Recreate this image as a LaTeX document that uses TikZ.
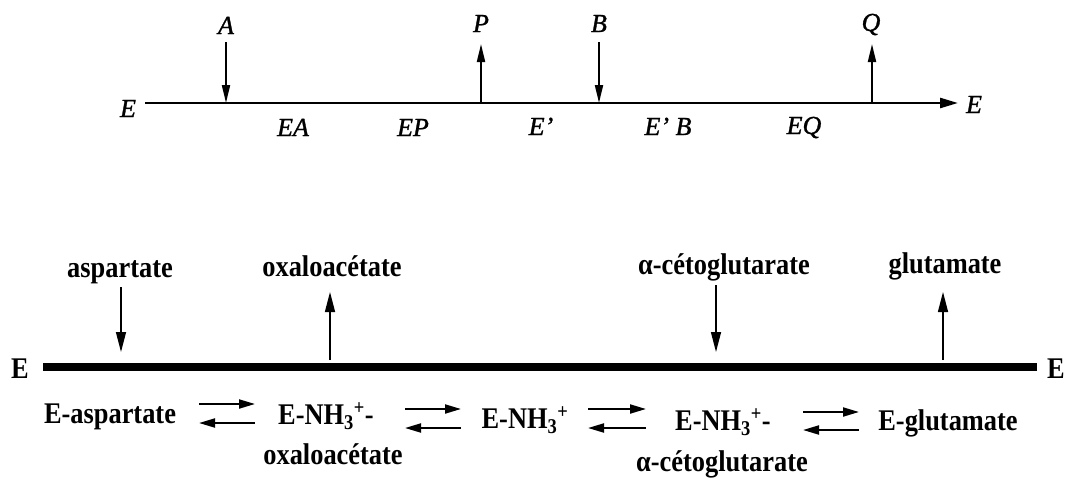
\documentclass[tikz,border=0pt]{standalone}
\usepackage{fontspec}
\setmainfont{Liberation Serif}
\newfontfamily\botfont[FakeStretch=0.88]{Liberation Serif}
\newfontfamily\topfont[FakeBold=1.2]{Liberation Serif}
\usetikzlibrary{arrows.meta}
\begin{document}
\begin{tikzpicture}[x=1pt,y=-1pt,
  toplab/.style={font=\topfont\fontsize{26}{26}\selectfont\itshape, inner sep=0, anchor=base},
  botlab/.style={font=\botfont\bfseries\fontsize{30}{30}\selectfont, inner sep=0, anchor=base},
  topline/.style={line width=2.5pt, -{Triangle[length=18pt,width=10pt]}},
  toparr/.style={line width=2pt, -{Triangle[length=18pt,width=8pt]}},
  botline/.style={line width=8.5pt},
  botarr/.style={line width=1.4pt, -{Triangle[length=20pt,width=10pt]}},
  eqarr/.style={line width=2pt, -{Triangle[length=16pt,width=9pt]}}]
\useasboundingbox (0,0) rectangle (1066,480);
% ---------------- top scheme ----------------
\node[toplab] (tEl) at (128,117) {E};
\node[toplab] (tEr) at (974,113) {E};
\coordinate (tL) at (145,103);
\coordinate (tR) at (958,103);
\draw[topline] (tL) -- (tR);
\node[toplab] (tA) at (226,34) {A};
\node[toplab] (tP) at (481,32) {P};
\node[toplab] (tB) at (599,32) {B};
\node[toplab] (tQ) at (871,31) {Q};
\coordinate (aA) at (226,103);
\coordinate (aP) at (481,103);
\coordinate (aB) at (599,103);
\coordinate (aQ) at (872,103);
\draw[toparr] (tA.south |- 0,42) -- (aA);
\draw[toparr] (aP) -- (tP.south |- 0,44);
\draw[toparr] (tB.south |- 0,42) -- (aB);
\draw[toparr] (aQ) -- (872,44);
\node[toplab] (tEA) at (293,136) {EA};
\node[toplab] (tEP) at (413,136) {EP};
\node[toplab] (tE1) at (541,135) {E’};
\node[toplab] (tEB) at (668,135) {E’ B};
\node[toplab] (tEQ) at (804,134) {EQ};
% ---------------- bottom scheme ----------------
\node[botlab] (bEl) at (20,378) {E};
\node[botlab] (bEr) at (1056,378) {E};
\coordinate (bL) at (43,367);
\coordinate (bR) at (1037,367);
\draw[botline] (bL) -- (bR);
\node[botlab] (asp) at (120,277) {aspartate};
\node[botlab] (oxa) at (332,276) {oxaloacétate};
\node[botlab] (ceto) at (724,274) {α-cétoglutarate};
\node[botlab] (glu) at (945,273) {glutamate};
\coordinate (asp1) at (121,287);
\coordinate (asp2) at (121,352);
\coordinate (oxa1) at (330,360);
\coordinate (oxa2) at (330,292);
\coordinate (ceto1) at (716,285);
\coordinate (ceto2) at (716,352);
\coordinate (glu1) at (943,360);
\coordinate (glu2) at (943,292);
\draw[botarr] (asp1) -- (asp2);
\draw[botarr] (oxa1) -- (oxa2);
\draw[botarr] (ceto1) -- (ceto2);
\draw[botarr] (glu1) -- (glu2);
% bottom row
\node[botlab] (s1) at (110,423) {E-aspartate};
\node[botlab] (s2) at (326,424) {E-NH\textsubscript{3}\textsuperscript{+}-};
\node[botlab] (s2b) at (333,464) {oxaloacétate};
\node[botlab] (s3) at (525,428) {E-NH\textsubscript{3}\textsuperscript{+}};
\node[botlab] (s4) at (723,430) {E-NH\textsubscript{3}\textsuperscript{+}-};
\node[botlab] (s4b) at (722,471) {α-cétoglutarate};
\node[botlab] (s5) at (948,430) {E-glutamate};
% equilibrium arrows
\coordinate (e1a) at (199,404); \coordinate (e1b) at (255,404);
\coordinate (e1c) at (255,423); \coordinate (e1d) at (199,423);
\coordinate (e2a) at (405,409); \coordinate (e2b) at (461,409);
\coordinate (e2c) at (461,428); \coordinate (e2d) at (405,428);
\coordinate (e3a) at (588,409); \coordinate (e3b) at (646,409);
\coordinate (e3c) at (646,428); \coordinate (e3d) at (588,428);
\coordinate (e4a) at (803,412); \coordinate (e4b) at (859,412);
\coordinate (e4c) at (859,430); \coordinate (e4d) at (803,430);
\draw[eqarr] (e1a) -- (e1b);
\draw[eqarr] (e1c) -- (e1d);
\draw[eqarr] (e2a) -- (e2b);
\draw[eqarr] (e2c) -- (e2d);
\draw[eqarr] (e3a) -- (e3b);
\draw[eqarr] (e3c) -- (e3d);
\draw[eqarr] (e4a) -- (e4b);
\draw[eqarr] (e4c) -- (e4d);
\end{tikzpicture}
\end{document}
